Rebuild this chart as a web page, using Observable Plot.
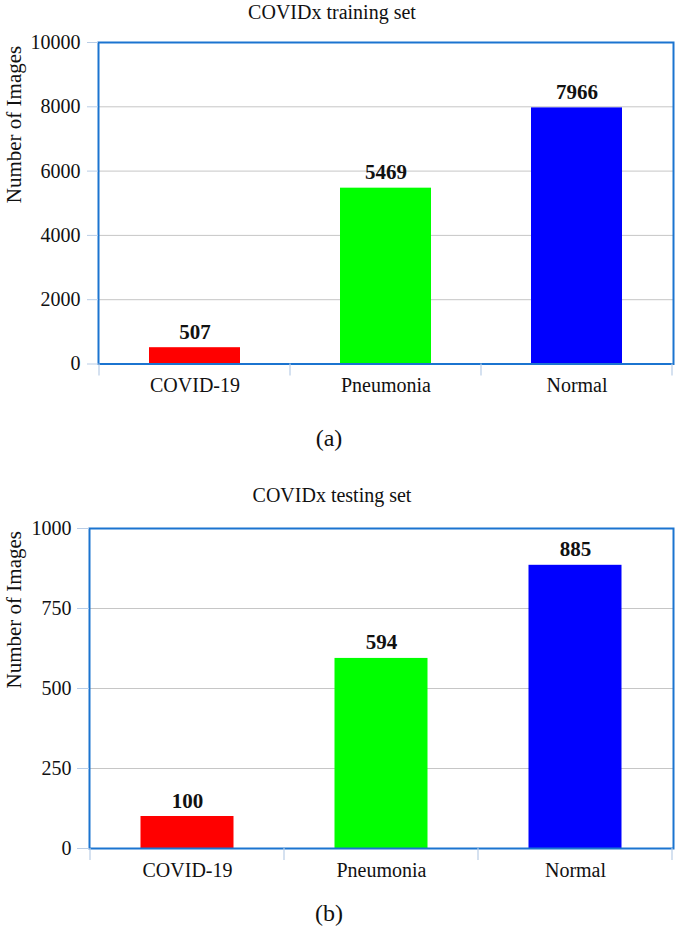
<!DOCTYPE html>
<html>
<head>
<meta charset="utf-8">
<script src="https://cdn.jsdelivr.net/npm/d3@7"></script>
<script src="https://cdn.jsdelivr.net/npm/@observablehq/plot@0.6"></script>
<style>
  html, body { margin: 0; padding: 0; background: white; }
  #page { position: relative; width: 676px; height: 938px; overflow: hidden; font-family: "Liberation Serif", "Times New Roman", serif; }
  #page svg, #page svg text { font-family: "Liberation Serif", "Times New Roman", serif !important; }
  .abs { position: absolute; line-height: 1; white-space: nowrap; color: #111; font-family: "Liberation Serif", serif; }
  .svgwrap { position: absolute; left: 0; }
</style>
</head>
<body>
<div id="page"></div>
<script>
// ---- data ----
const categories = ["COVID-19", "Pneumonia", "Normal"];
const trainingCounts = [507, 5469, 7966];
const testingCounts = [100, 594, 885];
const barColors = ["#ff0000", "#00ff00", "#0000ff"];
const trainingTicks = [0, 2000, 4000, 6000, 8000, 10000];
const testingTicks = [0, 250, 500, 750, 1000];
const titles = ["COVIDx training set", "COVIDx testing set"];
const captions = ["(a)", "(b)"];
const yLabel = "Number of Images";

const page = document.getElementById("page");
const FONT = "Liberation Serif, Times New Roman, serif";

function addText(txt, centerX, baseline, fs, weight) {
  const d = document.createElement("div");
  d.className = "abs";
  d.textContent = txt;
  d.style.fontSize = fs + "px";
  d.style.fontWeight = weight || "normal";
  d.style.top = (baseline - 0.8375 * fs) + "px";
  d.style.left = (centerX - 300) + "px";
  d.style.width = "600px";
  d.style.textAlign = "center";
  d.style.zIndex = 2;
  page.appendChild(d);
}

function boundaryTicks(cats, len, color) {
  return (index, scales, values, dimensions) => {
    const x = scales.x;
    const step = x(cats[1]) - x(cats[0]);
    const xs = cats.map(c => x(c)).concat([x(cats[cats.length - 1]) + step]);
    const y0 = dimensions.height - dimensions.marginBottom;
    const g = d3.create("svg:g");
    g.selectAll("line").data(xs).join("line")
      .attr("x1", d => d).attr("x2", d => d)
      .attr("y1", y0).attr("y2", y0 + len)
      .attr("stroke", color).attr("stroke-width", 1.2);
    return g.node();
  };
}

function makeChart(counts, ticks, opts) {
  const rows = categories.map((c, i) => ({cat: c, value: counts[i], color: barColors[i]}));
  return Plot.plot({
    width: 676,
    height: opts.height,
    marginLeft: opts.left,
    marginRight: 3,
    marginTop: opts.top,
    marginBottom: opts.bottom,
    style: {fontFamily: FONT, fontSize: "20px", background: "transparent", color: "#111"},
    x: {type: "band", domain: categories, padding: 0, label: null},
    y: {domain: [ticks[0], ticks[ticks.length - 1]], label: null},
    marks: [
      Plot.gridY(ticks, {stroke: "#c6c6c6", strokeOpacity: 1, strokeWidth: 1}),
      Plot.barY(rows, {x: "cat", y: "value", fill: "color", insetLeft: opts.inset, insetRight: opts.inset}),
      Plot.text(rows, {x: "cat", y: "value", text: d => String(d.value), dy: -9, lineAnchor: "bottom", fontWeight: "bold", fontSize: 21, fontFamily: FONT, fill: "#111"}),
      Plot.frame({stroke: "#1b74d0", strokeWidth: 2}),
      Plot.axisY({ticks: ticks, tickFormat: d3.format("d"), tickSize: opts.tickSize, tickPadding: opts.tickPadding, stroke: "#b9cde6", fill: "#111", fontSize: 20, fontFamily: FONT, label: null}),
      Plot.axisX({tickSize: 0, tickPadding: 14, fill: "#111", fontSize: 20, fontFamily: FONT, label: null}),
      boundaryTicks(categories, 12, "#b9cde6"),
      Plot.text([yLabel], {frameAnchor: "left", text: d => d, rotate: -90, dx: opts.labelDx, fontSize: 21, fontFamily: FONT, fill: "#111"})
    ]
  });
}

// ---- chart (a) ----
addText(titles[0], 332, 19, 20);
const wa = document.createElement("div");
wa.className = "svgwrap"; wa.style.top = "0px";
wa.appendChild(makeChart(trainingCounts, trainingTicks, {height: 410, left: 98, top: 42, bottom: 46.5, inset: 50, tickSize: 11, tickPadding: 7, labelDx: -84}));
page.appendChild(wa);
addText(captions[0], 329, 446, 24);

// ---- chart (b) ----
addText(titles[1], 332, 502, 20);
const wb = document.createElement("div");
wb.className = "svgwrap"; wb.style.top = "470px";
wb.appendChild(makeChart(testingCounts, testingTicks, {height: 420, left: 89, top: 58, bottom: 42, inset: 50.5, tickSize: 12, tickPadding: 6, labelDx: -75}));
page.appendChild(wb);
addText(captions[1], 329, 921, 24);
</script>
</body>
</html>
